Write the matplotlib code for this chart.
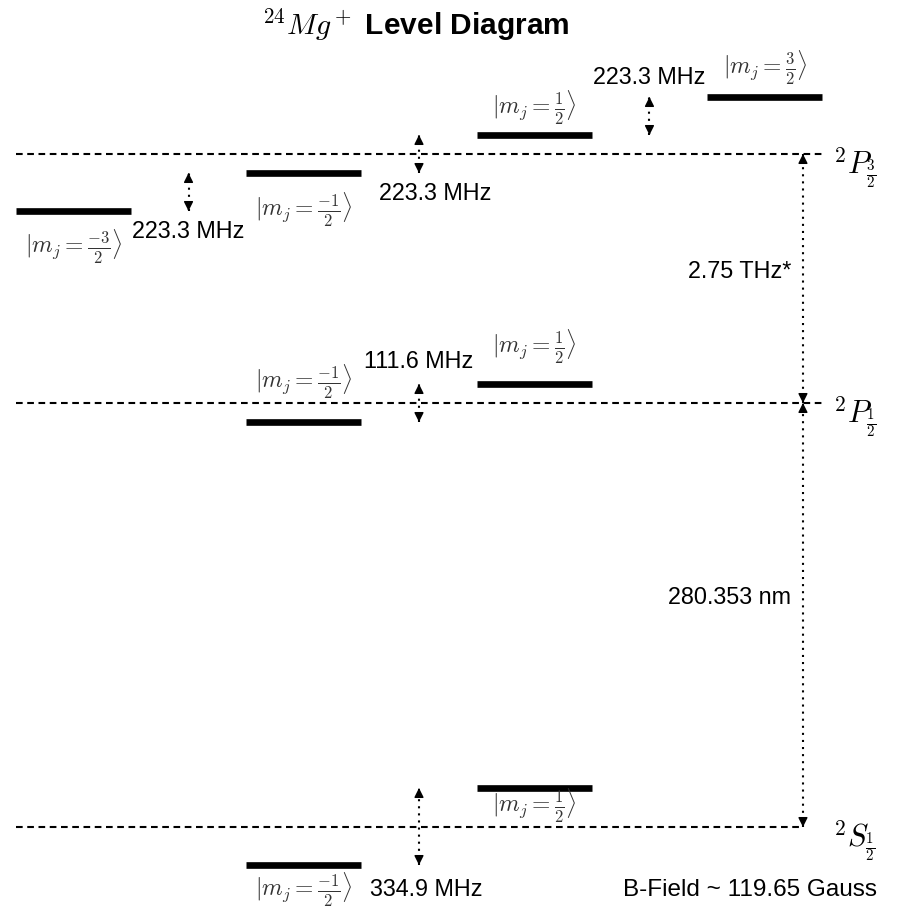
import numpy as np
import matplotlib.pyplot as plt

plt.rcParams['font.family'] = ['Liberation Sans', 'DejaVu Sans']
plt.rcParams['mathtext.fontset'] = 'cm'

# fine structure levels (schematic units) and term symbols
terms = ['$^2S_{\\frac{1}{2}}$', '$^2P_{\\frac{1}{2}}$', '$^2P_{\\frac{3}{2}}$']
term_y = [0, 424, 673]

# zeeman sublevels for each term: m_j and drawn offset from the term line
mj_vals = [[-0.5, 0.5], [-0.5, 0.5], [-1.5, -0.5, 0.5, 1.5]]
mj_shift = [[-38, 39], [-19, 19], [-57, -19, 19, 57]]
mj_text = {-1.5: '$|m_j = \\frac{-3}{2}\\rangle$', -0.5: '$|m_j = \\frac{-1}{2}\\rangle$',
           0.5: '$|m_j = \\frac{1}{2}\\rangle$', 1.5: '$|m_j = \\frac{3}{2}\\rangle$'}
# where the ket label sits relative to its bar
mj_label_dy = [[-25, -18], [40, 37], [-36, -37, 27, 29]]

# splittings between neighbouring sublevels: term, lower m_j, label, label pos
split_term = [2, 2, 2, 1, 0]
split_mj = [-1.5, -0.5, 0.5, -0.5, -0.5]
split_text = ['223.3 MHz', '223.3 MHz', '223.3 MHz', '111.6 MHz', '334.9 MHz']
split_label = [(-1.0, 595), (0.07, 634), (1.0, 749), (0.0, 465), (0.03, -63)]

big_gap_text = ['280.353 nm', '2.75 THz*']
big_gap_y = [229, 555]

fig = plt.figure(figsize=(8.97, 9.11), dpi=100)
ax = fig.add_axes([0, 0, 1, 1])
ax.set_xlim(-1.818, 2.074)
ax.set_ylim(-84, 827)
ax.axis('off')

half = 0.25
x_end = 1.75
x_big = 1.666


def dotted_arrow(x, y1, y2):
    # dotted shaft with a solid head at both ends
    ax.plot([x, x], [y1, y2], color='k', lw=1.5, ls=(0, (1, 2.4)))
    for tip, tail in [(y1, y2), (y2, y1)]:
        d = 2 if tail > tip else -2
        ax.annotate('', xy=(x, tip), xytext=(x, tip + d),
                    arrowprops=dict(arrowstyle='-|>', color='k', lw=1,
                                    shrinkA=0, shrinkB=0, mutation_scale=14))


for t, y0 in enumerate(term_y):
    # ground line stops at the big arrow
    xr = x_big if t == 0 else x_end
    ax.plot([-x_end, xr], [y0, y0], color='k', ls=(0, (3.2, 2.2)), lw=1.5)
    ax.text(1.795, y0 - 14, terms[t], fontsize=22, ha='left', va='center')
    for mj, dy, ly in zip(mj_vals[t], mj_shift[t], mj_label_dy[t]):
        ax.plot([mj - half, mj + half], [y0 + dy, y0 + dy], 'k-', lw=4.8,
                solid_capstyle='butt')
        ax.text(mj, y0 + dy + ly, mj_text[mj], fontsize=17, ha='center',
                va='center', color='#333333')

for t, mj, txt, (lx, ly) in zip(split_term, split_mj, split_text, split_label):
    i = mj_vals[t].index(mj)
    y1 = term_y[t] + mj_shift[t][i]
    y2 = term_y[t] + mj_shift[t][i + 1]
    dotted_arrow(mj + 0.5, y1, y2)
    ax.text(lx, ly, txt, fontsize=16.8, ha='center', va='center')

for k in range(2):
    dotted_arrow(x_big, term_y[k], term_y[k + 1])
    ax.text(x_big - 0.05, big_gap_y[k], big_gap_text[k], fontsize=16.8,
            ha='right', va='center')

fig.text(0.463, 0.973, '$^{24}Mg^+$ Level Diagram', fontsize=21.5,
         fontweight='bold', ha='center', va='center')
fig.text(0.836, 0.023, 'B-Field ~ 119.65 Gauss', fontsize=17.5,
         ha='center', va='center')

plt.savefig('out.png', dpi=100)
